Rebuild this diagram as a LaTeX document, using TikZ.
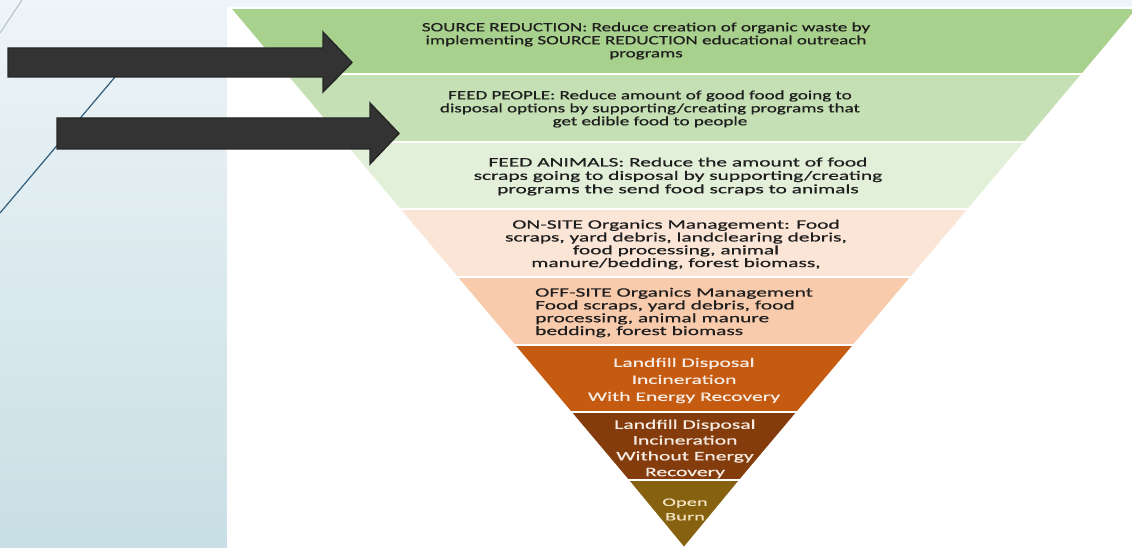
\documentclass[tikz,border=0pt]{standalone}
\usepackage{fontspec}
\newfontfamily\calibA[FakeStretch=1.5,FakeBold=0.6]{Carlito}
\newfontfamily\calibB[FakeStretch=1.66,FakeBold=0.6]{Carlito}
\newfontfamily\calibC[FakeStretch=1.8,FakeBold=0.6]{Carlito}
\definecolor{bgtop}{HTML}{EEF4F7}
\definecolor{bgbot}{HTML}{C8DFE5}
\definecolor{cA}{HTML}{A9D18E}
\definecolor{cB}{HTML}{C5E0B4}
\definecolor{cC}{HTML}{E2F0D9}
\definecolor{cD}{HTML}{FBE5D6}
\definecolor{cE}{HTML}{F8CBAD}
\definecolor{cF}{HTML}{C55A11}
\definecolor{cG}{HTML}{843C0C}
\definecolor{cH}{HTML}{866210}
\definecolor{arrowfill}{HTML}{333333}
\definecolor{darktext}{HTML}{1E1E1E}
\definecolor{lighttext}{HTML}{F7ECE4}
\definecolor{creamtext}{HTML}{F3E3C0}
\definecolor{decoline}{HTML}{2F5D7C}
\tikzset{
  band/.style={draw=white, line width=1.6pt, line join=miter},
  toptext/.style={font=\calibA\fontsize{12.7}{13}\selectfont, text=darktext, align=center, inner sep=0pt},
  midtext/.style={font=\calibB\fontsize{12.9}{13.4}\selectfont, text=darktext, align=center, inner sep=0pt},
  lefttext/.style={font=\calibB\fontsize{12.9}{12.8}\selectfont, text=darktext, align=left, inner sep=0pt, anchor=west},
  lowtext/.style={font=\calibB\fontsize{13}{17}\selectfont, text=lighttext, align=center, inner sep=0pt},
  blockarrow/.style={fill=arrowfill, draw=black!85, line width=1.4pt, line join=miter},
}
\begin{document}
\begin{tikzpicture}[x=1pt, y=-1pt]
\useasboundingbox (0,0) rectangle (1132,548);
% background
\fill[bgtop] (0,0) rectangle (1132,548);
\shade[top color=bgtop, bottom color=bgbot] (0,0) rectangle (227,548);
\fill[white] (227,8) rectangle (1132,548);
% decorative lines
\draw[bgbot!70!gray, line width=1pt] (0,33) -- (22,0);
\draw[decoline, line width=1.2pt] (0,213) -- (115,77);
% triangle bands: left edge x = 230 + 0.8426*(y-8), right edge x = 1138 - 0.8426*(y-8)
\begin{scope}
\clip (227,8) rectangle (1132,548);
\path[band, fill=cA] (230,8) -- (1138,8) -- (1082.4,74) -- (285.6,74) -- cycle;
\path[band, fill=cB] (285.6,74) -- (1082.4,74) -- (1025.1,142) -- (342.9,142) -- cycle;
\path[band, fill=cC] (342.9,142) -- (1025.1,142) -- (968.6,209) -- (399.4,209) -- cycle;
\path[band, fill=cD] (399.4,209) -- (968.6,209) -- (911.3,277) -- (456.7,277) -- cycle;
\path[band, fill=cE] (456.7,277) -- (911.3,277) -- (853.9,345) -- (514.1,345) -- cycle;
\path[band, fill=cF] (514.1,345) -- (853.9,345) -- (797.4,412) -- (570.6,412) -- cycle;
\path[band, fill=cG] (570.6,412) -- (797.4,412) -- (740.1,480) -- (627.9,480) -- cycle;
\path[band, fill=cH] (627.9,480) -- (740.1,480) -- (684,548) -- cycle;
\end{scope}
% texts
\node[toptext] (t1) at (646,41) {SOURCE REDUCTION: Reduce creation of organic waste by\\implementing SOURCE REDUCTION educational outreach\\programs};
\node[toptext] (t2) at (650,109) {FEED PEOPLE: Reduce amount of good food going to\\disposal options by supporting/creating programs that\\get edible food to people};
\node[midtext] (t3) at (678,176.5) {FEED ANIMALS: Reduce the amount of food\\scraps going to disposal by supporting/creating\\programs the send food scraps to animals};
\node[midtext, font=\calibB\fontsize{12.9}{12.8}\selectfont] (t4) at (676,244.5) {ON-SITE Organics Management: Food\\scraps, yard debris, landclearing debris,\\food processing, animal\\manure/bedding, forest biomass,};
\node[lefttext] (t5) at (535,312.5) {OFF-SITE Organics Management\\Food scraps, yard debris, food\\processing, animal manure\\bedding, forest biomass};
\node[lowtext] (t6) at (684,380.5) {Landfill Disposal\\Incineration\\With Energy Recovery};
\node[lowtext, font=\calibB\fontsize{13}{15.8}\selectfont] (t7) at (685,449) {Landfill Disposal\\Incineration\\Without Energy\\Recovery};
\node[lowtext, text=creamtext, font=\calibC\fontsize{11.4}{14.5}\selectfont] (t8) at (685,509.5) {Open\\Burn};
% block arrows
\path[blockarrow] (8,48) -- (323,48) -- (323,32) -- (352,62.5) -- (323,92) -- (323,77) -- (8,77) -- cycle;
\path[blockarrow] (57,118) -- (370,118) -- (370,103) -- (399,133.5) -- (370,164) -- (370,149) -- (57,149) -- cycle;
\end{tikzpicture}
\end{document}
